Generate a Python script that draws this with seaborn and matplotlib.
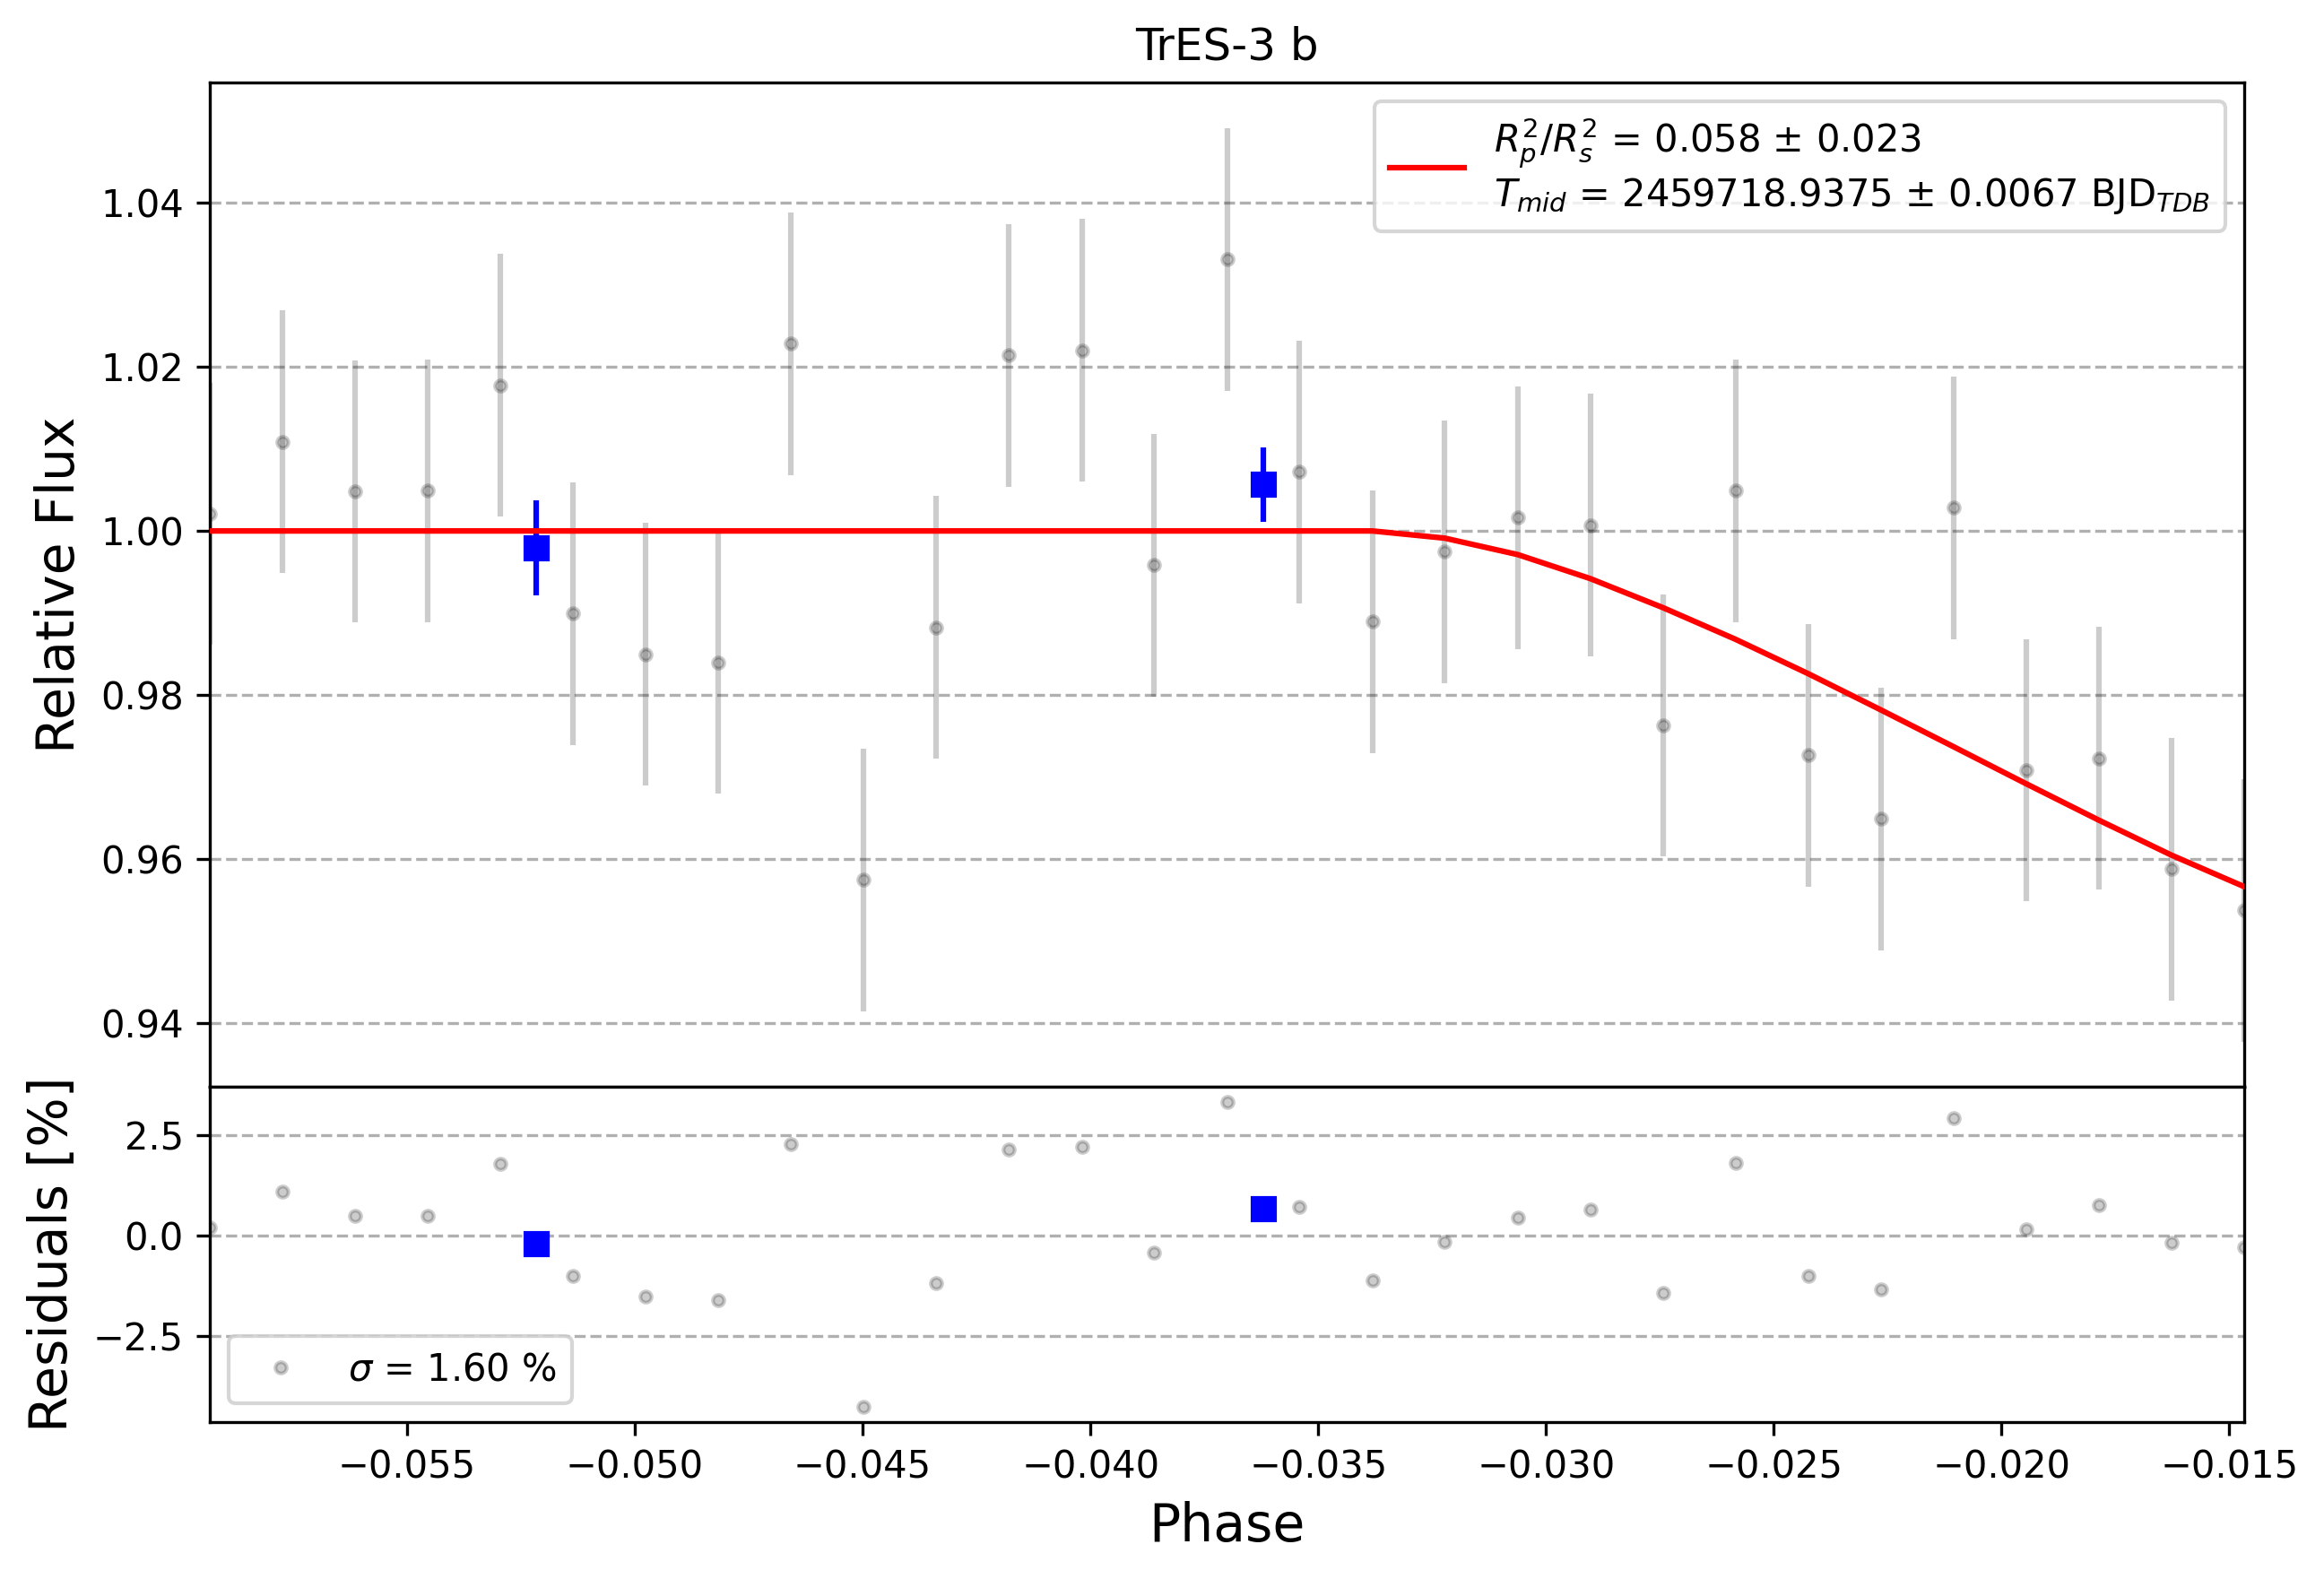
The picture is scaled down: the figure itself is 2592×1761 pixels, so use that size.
import matplotlib
matplotlib.use("Agg")
import matplotlib.pyplot as plt
import numpy as np
import seaborn as sns

# phase-folded light curve of TrES-3 b
phase = np.array([
    -0.05933, -0.05774, -0.05614, -0.05455, -0.05295, -0.05136, -0.04976,
    -0.04817, -0.04657, -0.04498, -0.04338, -0.04179, -0.04019, -0.03860,
    -0.03700, -0.03541, -0.03381, -0.03222, -0.03062, -0.02903, -0.02743,
    -0.02584, -0.02424, -0.02265, -0.02105, -0.01946, -0.01786, -0.01627,
    -0.01467,
])
flux = np.array([
    1.00209, 1.01085, 1.00482, 1.00490, 1.01777, 0.98995, 0.98497,
    0.98400, 1.02283, 0.95748, 0.98826, 1.02138, 1.02203, 0.99582,
    1.03309, 1.00721, 0.98897, 0.99749, 1.00163, 1.00069, 0.97630,
    1.00489, 0.97266, 0.96489, 1.00282, 0.97085, 0.97229, 0.95881,
    0.95379,
])
flux_err = np.array([0.016] * 29)
model = np.array([
    1.0, 1.0, 1.0, 1.0, 1.0, 1.0, 1.0, 1.0, 1.0, 1.0, 1.0, 1.0, 1.0, 1.0,
    1.0, 1.0, 1.0, 0.99912, 0.99712, 0.99420, 0.99065, 0.98680, 0.98260,
    0.97820, 0.97370, 0.96920, 0.96475, 0.96050, 0.95665,
])

# binned points
bin_phase = np.array([-0.05216, -0.03620])
bin_flux = np.array([0.99797, 1.00566])
bin_err = np.array([0.00578, 0.00450])
bin_resid = np.array([-0.20, 0.66])

residuals = (flux - model) * 100

fit_label = ("$R^{2}_{p}/R^{2}_{s}$ = 0.058 ± 0.023\n"
             "$T_{mid}$ = 2459718.9375 ± 0.0067 BJD$_{TDB}$")
sigma_label = r"$\sigma$ = 1.60 %"

sns.set_style("ticks")
plt.rcParams.update({
    "font.family": ["DejaVu Sans"],
    "axes.edgecolor": "black",
    "axes.labelcolor": "black",
    "text.color": "black",
    "xtick.color": "black",
    "ytick.color": "black",
    "axes.linewidth": 0.8,
    "xtick.major.width": 0.8,
    "ytick.major.width": 0.8,
    "grid.color": "#b0b0b0",
    "lines.solid_capstyle": "projecting",
})

fig = plt.figure(figsize=(8.64, 5.87), dpi=300)
gs = fig.add_gridspec(2, 1, height_ratios=[3, 1], hspace=0,
                      left=0.0903, right=0.9657, top=0.9478, bottom=0.0994)
ax_lc = fig.add_subplot(gs[0])
ax_res = fig.add_subplot(gs[1], sharex=ax_lc)

# light curve panel
ax_lc.errorbar(phase, flux, yerr=flux_err, fmt="o", color="black",
               alpha=0.2, ms=3, zorder=1)
ax_lc.errorbar(bin_phase, bin_flux, yerr=bin_err, fmt="s", color="blue",
               ms=6, zorder=2)
sns.lineplot(x=phase, y=model, color="red", lw=1.5, ax=ax_lc,
             label=fit_label, estimator=None, sort=False, zorder=3)
ax_lc.legend(loc="upper right", fontsize=10)
ax_lc.set_title("TrES-3 b", fontsize=12)
ax_lc.set_ylabel("Relative Flux", fontsize=14)
ax_lc.set_xlabel("")
ax_lc.grid(axis="y", ls="--")
ax_lc.tick_params(axis="x", which="both", bottom=False, labelbottom=False)

# residual panel
ax_res.plot(phase, residuals, "o", color="black", alpha=0.2, ms=3,
            label=sigma_label, zorder=1)
ax_res.plot(bin_phase, bin_resid, "s", color="blue", ms=6, zorder=2)
ax_res.legend(loc="lower left", fontsize=10)
ax_res.set_ylabel("Residuals [%]", fontsize=14)
ax_res.set_xlabel("Phase", fontsize=14)
ax_res.grid(axis="y", ls="--")

ax_res.set_xlim(phase.min(), phase.max())

fig.savefig("out.png", dpi=300)
